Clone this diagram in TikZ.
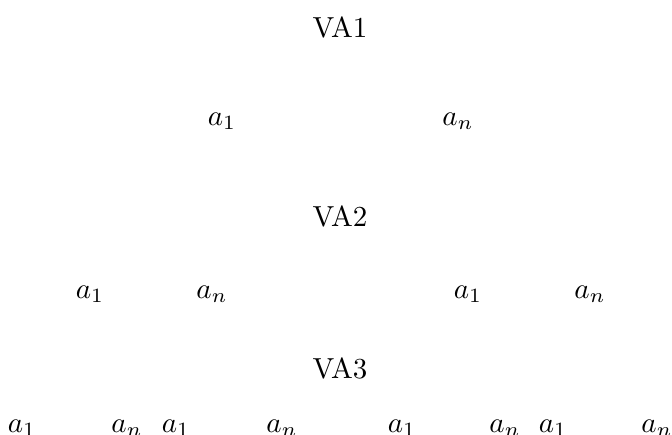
\documentclass[tikz,border=0pt]{standalone}
\begin{document}
\begin{tikzpicture}[x=0.3448pt,y=-0.3448pt,
  lbl/.style={inner sep=0pt,anchor=base}]
\useasboundingbox (0,0) rectangle (672,434);
% level 1
\node[lbl] (va1) at (340,37) {VA1};
\node[lbl] (r1a1) at (222,125) {$a_1$};
\node[lbl] (r1an) at (458,125) {$a_n$};
% level 2
\node[lbl] (va2) at (340,226) {VA2};
\node[lbl] (r2a1) at (90,298) {$a_1$};
\node[lbl] (r2an) at (212,298) {$a_n$};
\node[lbl] (r2b1) at (468,298) {$a_1$};
\node[lbl] (r2bn) at (590,298) {$a_n$};
% level 3
\node[lbl] (va3) at (340,378) {VA3};
\node[lbl] (r3a1) at (22,432) {$a_1$};
\node[lbl] (r3an) at (127,432) {$a_n$};
\node[lbl] (r3b1) at (176,432) {$a_1$};
\node[lbl] (r3bn) at (282,432) {$a_n$};
\node[lbl] (r3c1) at (402,432) {$a_1$};
\node[lbl] (r3cn) at (505,432) {$a_n$};
\node[lbl] (r3d1) at (553,432) {$a_1$};
\node[lbl] (r3dn) at (657,432) {$a_n$};
\end{tikzpicture}
\end{document}
